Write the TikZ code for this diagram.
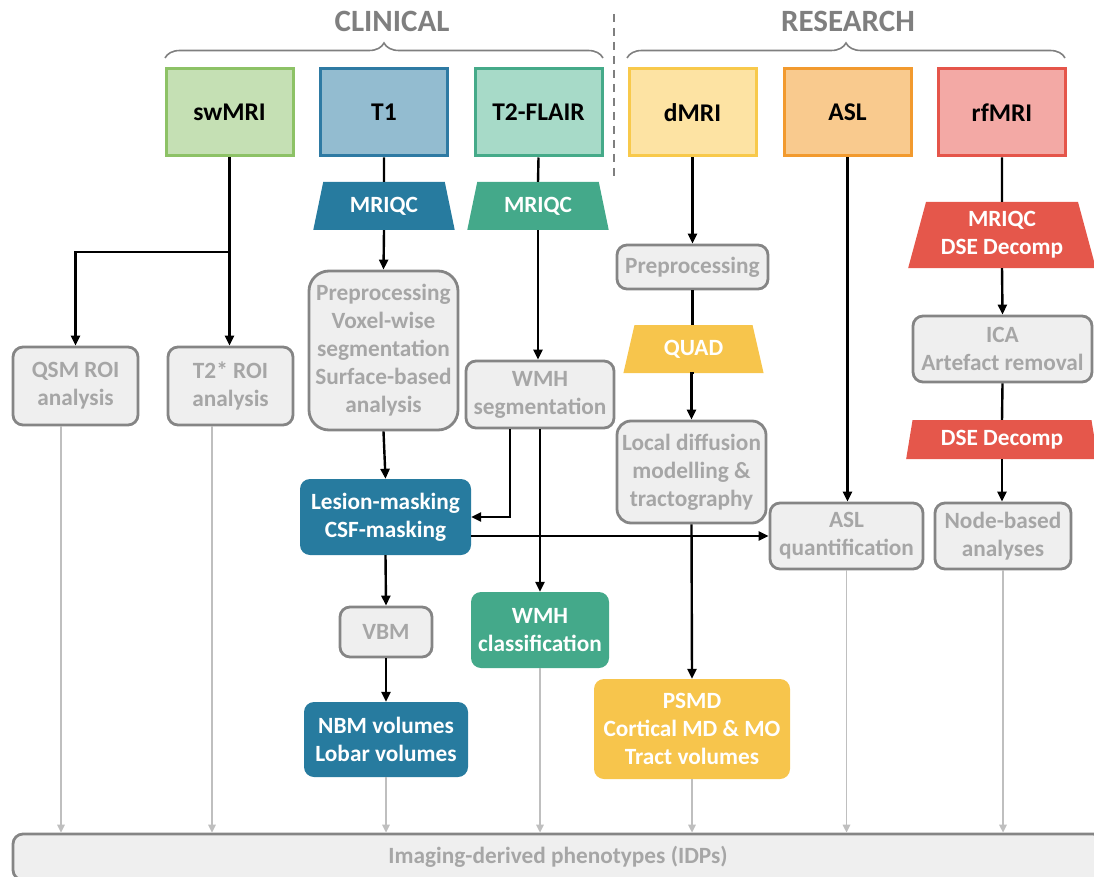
\documentclass[tikz,border=0pt]{standalone}
\usepackage{fontspec}
\setmainfont{Carlito}
\usetikzlibrary{positioning}
\usetikzlibrary{arrows.meta,shapes.geometric,decorations.pathreplacing}

\definecolor{hdgray}{HTML}{7F7F7F}
\definecolor{boxgray}{HTML}{EFEFEF}
\definecolor{edgegray}{HTML}{858585}
\definecolor{txtgray}{HTML}{A6A6A6}
\definecolor{linegray}{HTML}{BFBFBF}
\definecolor{swfill}{HTML}{C5E0B4}
\definecolor{swedge}{HTML}{8DC266}
\definecolor{tonefill}{HTML}{93BCD0}
\definecolor{toneedge}{HTML}{2E7AA3}
\definecolor{flairfill}{HTML}{A7DAC8}
\definecolor{flairedge}{HTML}{45AA89}
\definecolor{dfill}{HTML}{FDE3A3}
\definecolor{dedge}{HTML}{F8C94B}
\definecolor{aslfill}{HTML}{F9CA8E}
\definecolor{asledge}{HTML}{F29A2E}
\definecolor{rffill}{HTML}{F3A9A5}
\definecolor{rfedge}{HTML}{E5554A}
\definecolor{darkblue}{HTML}{277B9F}
\definecolor{teal}{HTML}{44A98A}
\definecolor{gold}{HTML}{F7C54C}
\definecolor{tomato}{HTML}{E5574B}

\tikzset{
  modality/.style={draw, line width=3pt, minimum width=127pt, minimum height=87pt, inner sep=0pt, font=\fontsize{25.5}{30}\selectfont\bfseries},
  proc/.style={draw=edgegray, fill=boxgray, line width=2.8pt, rounded corners=10pt, text=txtgray, align=center, inner sep=0pt, font=\fontsize{23.3}{28}\selectfont\bfseries},
  result/.style={fill=#1, rounded corners=10pt, text=white, align=center, inner sep=0pt, font=\fontsize{23.3}{28}\selectfont\bfseries},
  qc/.style={trapezium, trapezium stretches=true, trapezium angle=73, fill=#1, text=white, align=center, inner sep=0pt, font=\fontsize{23.3}{28}\selectfont\bfseries},
  arr/.style={line width=2.4pt, -{Triangle[length=10pt,width=9pt]}},
  link/.style={line width=2.4pt},
  idparr/.style={linegray, line width=1.6pt, -{Triangle[length=8pt,width=7.5pt]}},
  hdr/.style={text=hdgray, font=\fontsize{31}{34}\selectfont\bfseries},
  grpbrace/.style={hdgray, line width=1.6pt, decorate, decoration={brace, amplitude=15pt}}
}

\begin{document}
\begin{tikzpicture}[x=1pt, y=-1pt]
\useasboundingbox (0,0) rectangle (1094,877);

\node[hdr] (clin) at (392,21) {CLINICAL};
\node[hdr] (res) at (848,21) {RESEARCH};
\draw[grpbrace] (165,58) -- (603,58);
\draw[grpbrace] (627,58) -- (1065,58);
\draw[hdgray, line width=1.8pt, dash pattern=on 8pt off 6pt] (614,14) -- (614,176);

\node[modality, draw=swedge, fill=swfill] (sw) at (229.5,112.5) {swMRI};
\node[modality, draw=toneedge, fill=tonefill] (tone) at (384,112.5) {T1};
\node[modality, draw=flairedge, fill=flairfill] (flair) at (538.5,112.5) {T2-FLAIR};
\node[modality, draw=dedge, fill=dfill] (dmri) at (692.5,112.5) {dMRI};
\node[modality, draw=asledge, fill=aslfill] (asl) at (847.5,112.5) {ASL};
\node[modality, draw=rfedge, fill=rffill] (rf) at (1002,112.5) {rfMRI};

\node[qc=darkblue, minimum width=142pt, minimum height=48pt] (qcone) at (384,206) {MRIQC};
\node[qc=teal, minimum width=142pt, minimum height=48pt] (qcflair) at (538,206) {MRIQC};
\node[qc=gold, minimum width=141pt, minimum height=48pt] (quad) at (693.5,349) {QUAD};
\node[qc=tomato, minimum width=188pt, minimum height=66pt] (qcrf) at (1002,235) {MRIQC\\DSE Decomp};
\node[qc=tomato, trapezium angle=77, minimum width=192pt, minimum height=39pt] (dse) at (1002,439.5) {DSE Decomp};

\node[proc, minimum width=125pt, minimum height=78pt] (qsm) at (75.5,386) {QSM ROI\\analysis};
\node[proc, minimum width=125pt, minimum height=78pt] (tstar) at (230.5,386) {T2* ROI\\analysis};
\node[proc, rounded corners=20pt, minimum width=149pt, minimum height=159pt] (prepone) at (383.5,350.5) {Preprocessing\\Voxel-wise\\segmentation\\Surface-based\\analysis};
\node[proc, minimum width=148pt, minimum height=67pt] (wmhseg) at (540,394.5) {WMH\\segmentation};
\node[result=darkblue, minimum width=171pt, minimum height=76pt] (lesion) at (385.5,517) {Lesion-masking\\CSF-masking};
\node[proc, minimum width=92pt, minimum height=50pt] (vbm) at (386,632) {VBM};
\node[result=darkblue, minimum width=164pt, minimum height=75pt] (nbm) at (386,739.5) {NBM volumes\\Lobar volumes};
\node[result=teal, minimum width=138pt, minimum height=76pt] (wmhcls) at (540,630) {WMH\\classification};
\node[proc, minimum width=151pt, minimum height=44pt] (prepd) at (692.5,267) {Preprocessing};
\node[proc, rounded corners=14pt, minimum width=149pt, minimum height=102pt] (locdiff) at (691.5,472) {Local diffusion\\modelling \&\\tractography};
\node[result=gold, minimum width=196pt, minimum height=100pt] (psmd) at (692,729) {PSMD\\Cortical MD \& MO\\Tract volumes};
\node[proc, minimum width=153pt, minimum height=66pt] (aslq) at (846.5,536) {ASL\\quantification};
\node[proc, minimum width=179pt, minimum height=66pt] (ica) at (1002.5,349) {ICA\\Artefact removal};
\node[proc, minimum width=136pt, minimum height=66pt] (nodeb) at (1003,536) {Node-based\\analyses};
\node[proc, minimum width=1090pt, minimum height=46pt] (idp) at (558,857) {Imaging-derived phenotypes (IDPs)};

\coordinate (swsplit) at (229.5,252);
\draw[link] (sw.south) -- (swsplit);
\draw[arr] (swsplit) -| (qsm.north);
\draw[arr] (swsplit) -- (swsplit |- tstar.north);
\draw[link] (tone.south) -- (qcone.north);
\draw[arr] (qcone.south) -- (prepone.north);
\draw[arr] (prepone.south) -- (lesion.north);
\draw[link] (flair.south) -- (qcflair.north);
\draw[arr] (qcflair.south) -- (qcflair.south |- wmhseg.north);
\draw[arr] ([xshift=-30pt]wmhseg.south) |- (lesion.east);
\draw[arr] (wmhseg.south) -- (wmhcls.north);
\draw[arr] (lesion.south) -- (vbm.north);
\draw[arr] (vbm.south) -- (nbm.north);
\draw[arr] (lesion.east |- aslq.west) -- (aslq.west);
\draw[arr] (dmri.south) -- (prepd.north);
\draw[link] (prepd.south) -- (prepd.south |- quad.north);
\draw[arr] (quad.south) -- (quad.south -| locdiff.north) -- (locdiff.north);
\draw[arr] (locdiff.south) -- (psmd.north);
\draw[arr] (asl.south) -- (asl.south |- aslq.north);
\draw[link] (rf.south) -- (qcrf.north);
\draw[arr] (qcrf.south) -- (ica.north);
\draw[link] (ica.south) -- (dse.north);
\draw[arr] (dse.south) -- (dse.south |- nodeb.north);

\draw[idparr] ([xshift=-14.5pt]qsm.south) -- ([xshift=-14.5pt]qsm.south |- idp.north);
\draw[idparr] ([xshift=-18.5pt]tstar.south) -- ([xshift=-18.5pt]tstar.south |- idp.north);
\draw[idparr] (nbm.south) -- (nbm.south |- idp.north);
\draw[idparr] (wmhcls.south) -- (wmhcls.south |- idp.north);
\draw[idparr] (psmd.south) -- (psmd.south |- idp.north);
\draw[idparr] (aslq.south) -- (aslq.south |- idp.north);
\draw[idparr] (nodeb.south) -- (nodeb.south |- idp.north);
\end{tikzpicture}
\end{document}
